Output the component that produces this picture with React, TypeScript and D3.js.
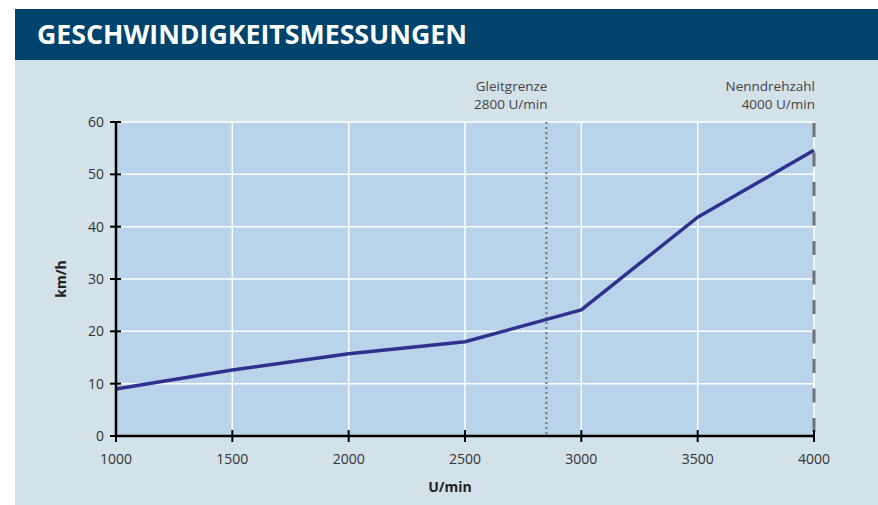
import React from "react";
import * as d3 from "d3";

const rpm = [1000, 1500, 2000, 2500, 3000, 3500, 4000];
const speed = [9.0, 12.6, 15.7, 18.0, 24.1, 41.8, 54.6];
const xTicks = [1000, 1500, 2000, 2500, 3000, 3500, 4000];
const yTicks = [0, 10, 20, 30, 40, 50, 60];
const gleitX = 2850;
const gleitLabel = ["Gleitgrenze", "2800 U/min"];
const nennX = 4000;
const nennLabel = ["Nenndrehzahl", "4000 U/min"];
const title = "GESCHWINDIGKEITSMESSUNGEN";

const W = 878;
const H = 505;
const left = 116, right = 814, top = 122, bottom = 436;
const font = "'Open Sans', 'Noto Sans', sans-serif";

export default function App() {
  const x = d3.scaleLinear().domain([1000, 4000]).range([left, right]);
  const y = d3.scaleLinear().domain([0, 60]).range([bottom, top]);
  const line = d3
    .line<number>()
    .x((_, i) => x(rpm[i]))
    .y((d) => y(d));

  return (
    <svg
      width={W}
      height={H}
      style={{ position: "absolute", left: 0, top: 0, display: "block" }}
      fontFamily={font}
    >
      <rect x={0} y={0} width={W} height={H} fill="#ffffff" />
      <rect x={15} y={60} width={W - 15} height={H - 60} fill="#d3e1e9" />
      <rect x={15} y={9} width={W - 15} height={51} fill="#00436c" />
      <text
        x={37}
        y={44}
        fill="#ffffff"
        fontSize={26}
        fontWeight={700}
        textLength={430}
        lengthAdjust="spacingAndGlyphs"
      >
        {title}
      </text>

      <rect x={left} y={top} width={right - left} height={bottom - top} fill="#b8d3ea" />
      {xTicks.map((t) => (
        <line key={"gx" + t} x1={x(t)} x2={x(t)} y1={top} y2={bottom} stroke="#ffffff" strokeWidth={1.5} />
      ))}
      {yTicks.map((t) => (
        <line key={"gy" + t} x1={left} x2={right} y1={y(t)} y2={y(t)} stroke="#ffffff" strokeWidth={1.5} />
      ))}

      <line x1={x(gleitX)} x2={x(gleitX)} y1={top} y2={bottom} stroke="#6f747a" strokeWidth={2} strokeDasharray="2 3" />
      <line x1={x(nennX)} x2={x(nennX)} y1={top + 1} y2={bottom} stroke="#6f7378" strokeWidth={3} strokeDasharray="14 15.5" />

      <path d={line(speed) || ""} fill="none" stroke="#30308f" strokeWidth={3.5} strokeLinejoin="round" />

      <line x1={left} x2={left} y1={top} y2={bottom + 1} stroke="#000" strokeWidth={2.5} />
      <line x1={left - 1} x2={right + 1} y1={bottom} y2={bottom} stroke="#000" strokeWidth={2.5} />
      {yTicks.map((t) => (
        <g key={"ty" + t}>
          <line x1={left - 6} x2={left + 5} y1={y(t)} y2={y(t)} stroke="#000" strokeWidth={2} />
          <text x={left - 12} y={y(t) + 5} textAnchor="end" fontSize={14} fill="#333">
            {t}
          </text>
        </g>
      ))}
      {xTicks.map((t) => (
        <g key={"tx" + t}>
          <line x1={x(t)} x2={x(t)} y1={bottom - 6} y2={bottom + 6} stroke="#000" strokeWidth={2} />
          <text x={x(t)} y={bottom + 28} textAnchor="middle" fontSize={14} fill="#333">
            {t}
          </text>
        </g>
      ))}

      <text
        transform={`translate(66,${(top + bottom) / 2}) rotate(-90)`}
        textAnchor="middle"
        fontSize={14}
        fontWeight={700}
        fill="#222"
      >
        km/h
      </text>
      <text x={450} y={492} textAnchor="middle" fontSize={14} fontWeight={700} fill="#222">
        U/min
      </text>

      {gleitLabel.map((s, i) => (
        <text key={"gl" + i} x={x(gleitX) + 1} y={91 + i * 18} textAnchor="end" fontSize={13.5} fill="#444">
          {s}
        </text>
      ))}
      {nennLabel.map((s, i) => (
        <text key={"nl" + i} x={x(nennX) + 1} y={91 + i * 18} textAnchor="end" fontSize={13.5} fill="#444">
          {s}
        </text>
      ))}
    </svg>
  );
}
